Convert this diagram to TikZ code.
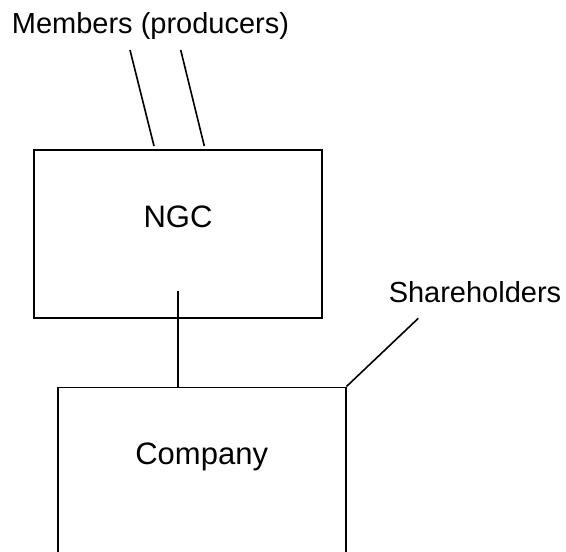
\documentclass[tikz,border=0pt]{standalone}
\usepackage{fontspec}
\setmainfont{Liberation Sans}
\begin{document}
\begin{tikzpicture}[x=1pt,y=1pt,
  conn/.style={line width=1.6pt,black},
  boxstyle/.style={draw,line width=1.6pt,rectangle,inner sep=0pt},
  lbl/.style={font=\fontsize{29}{34}\selectfont,inner sep=0pt,anchor=base},
  boxtxt/.style={font=\fontsize{31}{36}\selectfont,inner sep=0pt,anchor=base}]
\useasboundingbox (0,0) rectangle (566,-552);
\clip (0,0) rectangle (566,-552);
% NGC box
\node[boxstyle,minimum width=288pt,minimum height=168pt] (ngc) at (178,-234) {};
\node[boxtxt] (ngctxt) at (178,-227) {NGC};
% Company box (bottom runs past the page edge)
\node[boxstyle,minimum width=288pt,minimum height=260pt] (company) at (201.7,-517.3) {};
\node[boxtxt] (comptxt) at (201.7,-464) {Company};
% labels
\node[lbl] (members) at (150.5,-33) {Members (producers)};
\node[lbl] (share) at (475,-302) {Shareholders};
% connector ends
\coordinate (m1a) at (130,-50);
\coordinate (m1b) at (154,-146);
\coordinate (m2a) at (180.7,-50);
\coordinate (m2b) at (204.3,-146);
\coordinate (sha) at (418.3,-318.3);
\coordinate (inner) at (178,-291);
\draw[conn] (m1a) -- (m1b);
\draw[conn] (m2a) -- (m2b);
\draw[conn] (inner) -- (inner |- company.north);
\draw[conn] (sha) -- (company.north east);
\end{tikzpicture}
\end{document}
